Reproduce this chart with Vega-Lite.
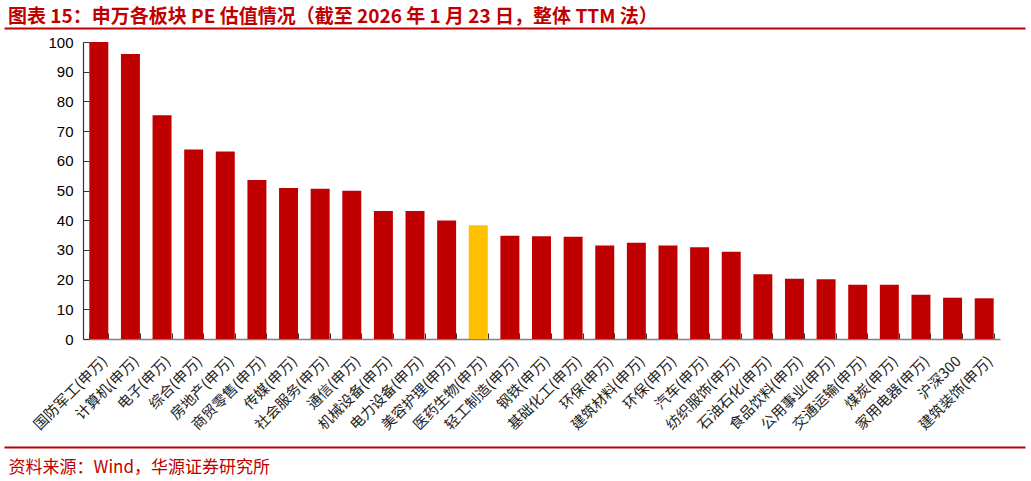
{
  "$schema": "https://vega.github.io/schema/vega-lite/v6.json",
  "autosize": {"type": "none"},
  "padding": {"left": 83, "top": 42, "right": 31, "bottom": 142},
  "width": 917,
  "height": 297,
  "background": "white",
  "title": {
    "text": "图表 15：申万各板块 PE 估值情况（截至 2026 年 1 月 23 日，整体 TTM 法）",
    "anchor": "start",
    "frame": "group",
    "dx": -75,
    "offset": 1,
    "font": "Noto Sans CJK SC",
    "fontSize": 19,
    "fontWeight": "bold",
    "color": "#C00000"
  },
  "data": {
    "values": [
      {"name": "国防军工(申万)", "pe": 100},
      {"name": "计算机(申万)", "pe": 96},
      {"name": "电子(申万)", "pe": 75.3},
      {"name": "综合(申万)", "pe": 63.8},
      {"name": "房地产(申万)", "pe": 63.1},
      {"name": "商贸零售(申万)", "pe": 53.5},
      {"name": "传媒(申万)", "pe": 50.8},
      {"name": "社会服务(申万)", "pe": 50.6},
      {"name": "通信(申万)", "pe": 49.9},
      {"name": "机械设备(申万)", "pe": 43.1},
      {"name": "电力设备(申万)", "pe": 43.1},
      {"name": "美容护理(申万)", "pe": 39.9},
      {"name": "医药生物(申万)", "pe": 38.3},
      {"name": "轻工制造(申万)", "pe": 34.8},
      {"name": "钢铁(申万)", "pe": 34.6},
      {"name": "基础化工(申万)", "pe": 34.4},
      {"name": "环保(申万)", "pe": 31.5},
      {"name": "建筑材料(申万)", "pe": 32.4},
      {"name": "环保(申万)\u200b", "pe": 31.5},
      {"name": "汽车(申万)", "pe": 30.9},
      {"name": "纺织服饰(申万)", "pe": 29.4},
      {"name": "石油石化(申万)", "pe": 21.8},
      {"name": "食品饮料(申万)", "pe": 20.3},
      {"name": "公用事业(申万)", "pe": 20.1},
      {"name": "交通运输(申万)", "pe": 18.3},
      {"name": "煤炭(申万)", "pe": 18.3},
      {"name": "家用电器(申万)", "pe": 14.9},
      {"name": "沪深300", "pe": 13.9},
      {"name": "建筑装饰(申万)", "pe": 13.7}
    ]
  },
  "layer": [
    {
      "mark": {"type": "bar"},
      "encoding": {
        "x": {
          "field": "name",
          "type": "nominal",
          "sort": null,
          "scale": {"paddingInner": 0.4, "paddingOuter": 0.2},
          "axis": {
            "title": null,
            "labelAngle": -45,
            "labelAlign": "right",
            "labelBaseline": "middle",
            "labelFont": "Noto Sans CJK SC",
            "labelFontSize": 14.5,
            "labelColor": "#222222",
            "labelPadding": 26,
            "labelOffset": 6,
            "tickBand": "extent",
            "tickSize": -6,
            "tickColor": "#333333",
            "domainColor": "#808080",
            "domainWidth": 1.5
          }
        },
        "y": {
          "field": "pe",
          "type": "quantitative",
          "scale": {"domain": [0, 100], "nice": false},
          "axis": {
            "title": null,
            "values": [0, 10, 20, 30, 40, 50, 60, 70, 80, 90, 100],
            "grid": false,
            "labelFont": "Liberation Sans",
            "labelFontSize": 15,
            "labelColor": "#000000",
            "labelPadding": 16,
            "tickSize": -6,
            "tickColor": "#333333",
            "domainColor": "#333333",
            "domainWidth": 1.2
          }
        },
        "color": {
          "condition": {"test": "datum.name === '医药生物(申万)'", "value": "#FFC000"},
          "value": "#C00000"
        }
      }
    },
    {
      "mark": {"type": "point", "opacity": 0},
      "encoding": {
        "x": {
          "field": "name",
          "type": "nominal",
          "sort": null,
          "scale": {"range": [-79, 942]},
          "axis": {
            "orient": "top",
            "offset": 14,
            "title": null,
            "labels": false,
            "ticks": false,
            "grid": false,
            "domainColor": "#C00000",
            "domainWidth": 2
          }
        }
      }
    },
    {
      "mark": {"type": "point", "opacity": 0},
      "encoding": {
        "x": {
          "field": "name",
          "type": "nominal",
          "sort": null,
          "scale": {"range": [-79, 942]},
          "axis": {
            "orient": "bottom",
            "offset": 108,
            "labels": false,
            "ticks": false,
            "grid": false,
            "domainColor": "#C00000",
            "domainWidth": 2,
            "title": "资料来源：Wind，华源证券研究所",
            "titleFont": "Noto Sans CJK SC",
            "titleFontSize": 17,
            "titleFontWeight": "normal",
            "titleColor": "#C00000",
            "titleAnchor": "start",
            "titleAlign": "left",
            "titleBaseline": "alphabetic",
            "titleX": -75,
            "titleY": 25
          }
        }
      }
    }
  ],
  "resolve": {"scale": {"x": "independent"}, "axis": {"x": "independent"}},
  "config": {"view": {"stroke": null}}
}
